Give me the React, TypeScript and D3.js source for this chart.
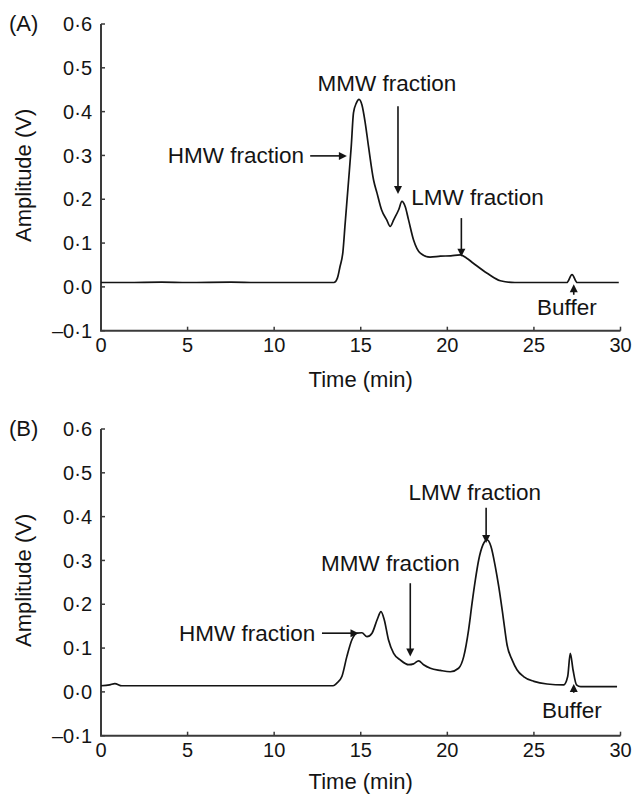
import React from "react";
import * as d3 from "d3";

// ---------- data ----------
const X_TICKS = [0, 5, 10, 15, 20, 25, 30];
const Y_TICKS = [-0.1, 0, 0.1, 0.2, 0.3, 0.4, 0.5, 0.6];

const timeA = [0, 1.5, 3.5, 5, 7.5, 9, 11, 13.45, 13.65, 13.8, 13.97, 14.1, 14.3, 14.45, 14.58, 14.75, 14.9, 15.07, 15.26, 15.45, 15.74, 15.94, 16.2, 16.5, 16.7, 16.9, 17.19, 17.38, 17.57, 17.76, 18.05, 18.44, 19.0, 19.6, 20.2, 20.75, 21.1, 21.5, 22.3, 23.06, 23.9, 26.9, 27.2, 27.5, 29.9];
const ampA = [0.01, 0.01, 0.011, 0.01, 0.011, 0.01, 0.01, 0.01, 0.02, 0.046, 0.08, 0.145, 0.244, 0.32, 0.397, 0.42, 0.428, 0.415, 0.374, 0.32, 0.244, 0.214, 0.176, 0.153, 0.138, 0.153, 0.176, 0.195, 0.183, 0.153, 0.107, 0.077, 0.068, 0.07, 0.071, 0.073, 0.066, 0.054, 0.031, 0.014, 0.01, 0.01, 0.028, 0.01, 0.01];

const timeB = [0, 0.5, 0.8, 1.2, 13.4, 13.62, 13.91, 14.2, 14.49, 14.78, 15.07, 15.36, 15.65, 15.94, 16.17, 16.36, 16.6, 16.9, 17.28, 17.77, 18.05, 18.34, 18.63, 19.02, 19.6, 20.17, 20.65, 20.95, 21.23, 21.43, 21.62, 21.81, 22.06, 22.3, 22.52, 22.77, 22.97, 23.22, 23.45, 23.74, 24.03, 24.4, 25.0, 25.76, 26.72, 26.95, 27.1, 27.26, 27.46, 27.7, 29.8];
const ampB = [0.014, 0.016, 0.019, 0.014, 0.014, 0.02, 0.035, 0.081, 0.119, 0.134, 0.135, 0.126, 0.134, 0.164, 0.183, 0.164, 0.119, 0.088, 0.073, 0.062, 0.064, 0.071, 0.062, 0.054, 0.049, 0.046, 0.054, 0.081, 0.142, 0.203, 0.256, 0.301, 0.336, 0.347, 0.332, 0.286, 0.24, 0.172, 0.107, 0.073, 0.05, 0.035, 0.024, 0.018, 0.016, 0.035, 0.088, 0.05, 0.016, 0.012, 0.012];

// annotations: label, text position (time, amplitude), text anchor, arrow from -> to (time, amplitude)
const labelsA = ["HMW fraction", "MMW fraction", "LMW fraction", "Buffer"];
const textPosA = [[11.73, 0.299], [12.5, 0.446], [17.92, 0.187], [25.18, -0.064]];
const anchorA = ["end", "start", "start", "start"];
const arrowFromA = [[12.08, 0.299], [17.15, 0.412], [20.81, 0.157], [27.3, -0.018]];
const arrowToA = [[14.2, 0.299], [17.15, 0.212], [20.81, 0.069], [27.3, 0.006]];

const labelsB = ["HMW fraction", "MMW fraction", "LMW fraction", "Buffer"];
const textPosB = [[12.37, 0.134], [12.7, 0.275], [17.76, 0.437], [25.47, -0.06]];
const anchorB = ["end", "start", "start", "start"];
const arrowFromB = [[12.76, 0.134], [17.86, 0.248], [22.24, 0.42], [27.3, -0.002]];
const arrowToB = [[14.87, 0.134], [17.86, 0.081], [22.24, 0.34], [27.3, 0.018]];

const FONT = "'Liberation Sans', Arial, Helvetica, sans-serif";
const INK = "#141414";
const AXIS = "#3a3a3a";

const fmtY = (v: number) =>
  d3.format(".1f")(v).replace(".", "·").replace("−", "–").replace("-", "–");

function Arrow({ x1, y1, x2, y2 }: { x1: number; y1: number; x2: number; y2: number }) {
  const dx = x2 - x1;
  const dy = y2 - y1;
  const len = Math.sqrt(dx * dx + dy * dy) || 1;
  const ux = dx / len;
  const uy = dy / len;
  const hl = 8;
  const hw = 4;
  const bx = x2 - ux * hl;
  const by = y2 - uy * hl;
  const pts = [
    [x2, y2],
    [bx - uy * hw, by + ux * hw],
    [bx + uy * hw, by - ux * hw],
  ];
  return (
    <g>
      <line x1={x1} y1={y1} x2={bx + ux * 1} y2={by + uy * 1} stroke={INK} strokeWidth={1.6} />
      <polygon points={pts.map((p) => p.join(",")).join(" ")} fill={INK} />
    </g>
  );
}

function Panel({
  top,
  tag,
  time,
  amp,
  labels,
  textPos,
  anchors,
  arrowFrom,
  arrowTo,
}: any) {
  const x = d3.scaleLinear().domain([0, 30]).range([101, 620.5]);
  const y = d3.scaleLinear().domain([-0.1, 0.6]).range([top + 330.7, top + 24]);
  const pts: [number, number][] = time.map((t: number, i: number) => [t, amp[i]]);
  const line = d3
    .line<[number, number]>()
    .x((d) => x(d[0]))
    .y((d) => y(d[1]))
    .curve(d3.curveMonotoneX);
  const y0 = y(-0.1);
  return (
    <g fontFamily={FONT} fill={INK}>
      <text x={9} y={top + 31} fontSize={22}>{tag}</text>
      {/* axes */}
      <line x1={x(0)} x2={x(0)} y1={y(0.6)} y2={y0} stroke={AXIS} strokeWidth={2} />
      <line x1={x(0) - 1} x2={x(30)} y1={y0} y2={y0} stroke={AXIS} strokeWidth={2} />
      {Y_TICKS.map((v) => (
        <g key={"y" + v}>
          <line x1={x(0)} x2={x(0) + 4} y1={y(v)} y2={y(v)} stroke={AXIS} strokeWidth={1.5} />
          <text x={92} y={y(v)} dy="0.36em" textAnchor="end" fontSize={20}>
            {fmtY(v)}
          </text>
        </g>
      ))}
      {X_TICKS.map((t) => (
        <g key={"x" + t}>
          <line x1={x(t)} x2={x(t)} y1={y0} y2={y0 - 4} stroke={AXIS} strokeWidth={1.5} />
          <text x={x(t)} y={y0 + 21} textAnchor="middle" fontSize={20}>
            {t}
          </text>
        </g>
      ))}
      <text x={x(15)} y={Math.min(y0 + 56, 789)} textAnchor="middle" fontSize={22}>
        Time (min)
      </text>
      <text
        transform={`translate(31,${(y(0.6) + y0) / 2 - 2}) rotate(-90)`}
        textAnchor="middle"
        fontSize={22}
      >
        Amplitude (V)
      </text>
      {/* curve */}
      <path d={line(pts) || ""} fill="none" stroke={INK} strokeWidth={1.7} strokeLinejoin="round" />
      {/* annotations */}
      {labels.map((lab: string, i: number) => (
        <g key={lab}>
          <text
            x={x(textPos[i][0])}
            y={y(textPos[i][1])}
            dy={anchors[i] === "end" ? "0.33em" : 0}
            textAnchor={anchors[i]}
            fontSize={22.5}
          >
            {lab}
          </text>
          <Arrow
            x1={x(arrowFrom[i][0])}
            y1={y(arrowFrom[i][1])}
            x2={x(arrowTo[i][0])}
            y2={y(arrowTo[i][1])}
          />
        </g>
      ))}
    </g>
  );
}

export default function App() {
  return (
    <svg
      width={632}
      height={794}
      viewBox="0 0 632 794"
      style={{ position: "absolute", left: 0, top: 0, background: "#fff" }}
    >
      <rect width={632} height={794} fill="#fff" />
      <Panel
        top={0}
        tag="(A)"
        time={timeA}
        amp={ampA}
        labels={labelsA}
        textPos={textPosA}
        anchors={anchorA}
        arrowFrom={arrowFromA}
        arrowTo={arrowToA}
      />
      <Panel
        top={405}
        tag="(B)"
        time={timeB}
        amp={ampB}
        labels={labelsB}
        textPos={textPosB}
        anchors={anchorB}
        arrowFrom={arrowFromB}
        arrowTo={arrowToB}
      />
    </svg>
  );
}
